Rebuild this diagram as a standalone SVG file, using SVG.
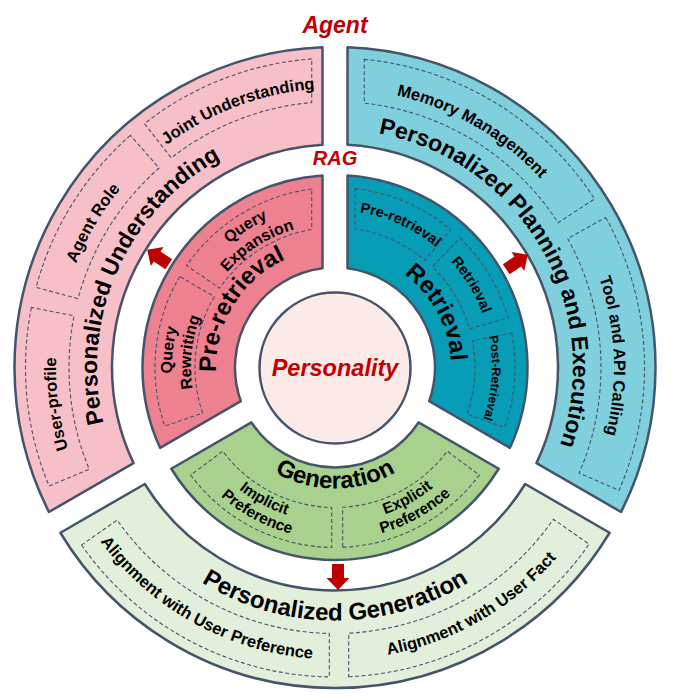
<svg xmlns="http://www.w3.org/2000/svg" width="674" height="700" viewBox="0 0 674 700">
<style>
.seg{stroke:#44546A;stroke-width:2.5;stroke-linejoin:round}
.box{fill:none;stroke:#44546A;stroke-width:1.1;stroke-dasharray:4 2.5}
text{font-family:"Liberation Sans",Arial,sans-serif;font-weight:bold;fill:#000}
.tt{font-size:23px}
.tg{font-size:24px}
.ts{font-size:16.5px}
.ti{font-size:16px}
.tm{font-size:14.5px}
.tq{font-size:15.5px}
.tp{font-size:12.5px}
.red{fill:#C00000;font-style:italic}
.arrow{fill:#C00000}
</style>
<defs>
<path id="cw238" d="M 335 605.5 A 238 238 0 1 1 335 129.5 A 238 238 0 1 1 335 605.5"/>
<path id="cw279" d="M 335 646.5 A 279 279 0 1 1 335 88.5 A 279 279 0 1 1 335 646.5"/>
<path id="cw119" d="M 335 486.5 A 119 119 0 1 1 335 248.5 A 119 119 0 1 1 335 486.5"/>
<path id="cw116" d="M 335 483.5 A 116 116 0 1 1 335 251.5 A 116 116 0 1 1 335 483.5"/>
<path id="cw163" d="M 335 530.5 A 163 163 0 1 1 335 204.5 A 163 163 0 1 1 335 530.5"/>
<path id="cw144" d="M 335 511.5 A 144 144 0 1 1 335 223.5 A 144 144 0 1 1 335 511.5"/>
<path id="cw157" d="M 335 524.5 A 157 157 0 1 1 335 210.5 A 157 157 0 1 1 335 524.5"/>
<path id="ccw253" d="M 335 114.5 A 253 253 0 1 0 335 620.5 A 253 253 0 1 0 335 114.5"/>
<path id="ccw292" d="M 335 75.5 A 292 292 0 1 0 335 659.5 A 292 292 0 1 0 335 75.5"/>
<path id="ccw121" d="M 335 246.5 A 121 121 0 1 0 335 488.5 A 121 121 0 1 0 335 246.5"/>
<path id="ccw155" d="M 335 212.5 A 155 155 0 1 0 335 522.5 A 155 155 0 1 0 335 212.5"/>
<path id="ccw172" d="M 335 195.5 A 172 172 0 1 0 335 539.5 A 172 172 0 1 0 335 195.5"/>
<polygon id="arr" points="-13,-6 1,-6 1,-11.5 13,0 1,11.5 1,6 -13,6"/>
</defs>

<g id="label-agent"><text class="red" x="335" y="33" font-size="23" text-anchor="middle">Agent</text></g>
<g id="label-rag"><text class="red" x="335" y="165" font-size="20" text-anchor="middle">RAG</text></g>

<g id="personalized-understanding">
<path class="seg" fill="#F7BFC8" d="M 322.5 47.24 A 320.5 320.5 0 0 0 48.92 512.0 L 133.55 463.14 A 223 223 0 0 1 322.5 144.85 Z"/>
<path class="box" d="M 311.7 58.88 A 309.5 309.5 0 0 0 144.44 123.61 L 171.22 157.89 A 266 266 0 0 1 311.7 102.52 Z"/>
<path class="box" d="M 130.33 135.34 A 309.5 309.5 0 0 0 36.05 287.40 L 78.07 298.66 A 266 266 0 0 1 159.09 167.97 Z"/>
<path class="box" d="M 31.38 307.40 A 309.5 309.5 0 0 0 49.05 485.95 L 89.24 469.30 A 266 266 0 0 1 74.05 315.84 Z"/>
<text class="tt" text-anchor="middle"><textPath href="#cw238" startOffset="472.7">Personalized Understanding</textPath></text>
<text class="ts" text-anchor="middle"><textPath href="#cw279" startOffset="775.7">Joint Understanding</textPath></text>
<text class="ts" text-anchor="middle"><textPath href="#cw279" startOffset="588.2">Agent Role</textPath></text>
<text class="ts" text-anchor="middle"><textPath href="#cw279" startOffset="401.7">User-profile</textPath></text>
</g>

<g id="personalized-planning">
<path class="seg" fill="#80CFDD" d="M 347.5 47.24 A 320.5 320.5 0 0 1 621.08 512.0 L 536.45 463.14 A 223 223 0 0 0 347.5 144.85 Z"/>
<path class="box" d="M 364.3 59.39 A 309.5 309.5 0 0 1 594.58 198.95 L 558.09 222.64 A 266 266 0 0 0 364.3 103.12 Z"/>
<path class="box" d="M 605.69 217.45 A 309.5 309.5 0 0 1 619.06 490.40 L 579.13 473.13 A 266 266 0 0 0 567.64 238.54 Z"/>
<text class="tt" text-anchor="middle"><textPath href="#cw238" startOffset="995.7">Personalized Planning and Execution</textPath></text>
<text class="ts" text-anchor="middle"><textPath href="#cw279" startOffset="1022.6">Memory Management</textPath></text>
<text class="ts" text-anchor="middle"><textPath href="#cw279" startOffset="1302.6">Tool and API Calling</textPath></text>
</g>

<g id="personalized-generation">
<path class="seg" fill="#E2EFDA" d="M 144.85 483.98 L 60.38 532.74 A 320.5 320.5 0 0 0 609.62 532.74 L 525.15 483.98 A 223 223 0 0 1 144.85 483.98 Z"/>
<path class="box" d="M 81.46 545.03 A 309.5 309.5 0 0 0 329.3 676.95 L 329.3 633.44 A 266 266 0 0 1 117.09 520.08 Z"/>
<path class="box" d="M 348.7 676.70 A 309.5 309.5 0 0 0 589.13 544.13 L 553.41 519.31 A 266 266 0 0 1 348.7 633.15 Z"/>
<text class="tg" text-anchor="middle"><textPath href="#ccw253" startOffset="794.8">Personalized Generation</textPath></text>
<text class="ts" text-anchor="middle"><textPath href="#ccw292" startOffset="769.5">Alignment with User Preference</textPath></text>
<text class="ts" text-anchor="middle"><textPath href="#ccw292" startOffset="1069.2">Alignment with User Fact</textPath></text>
</g>

<g id="pre-retrieval">
<path class="seg" fill="#EE8190" d="M 322.5 175.41 A 192.5 192.5 0 0 0 160.06 447.83 L 240.84 401.19 A 100 100 0 0 1 322.5 268.28 Z"/>
<path class="box" d="M 311.7 189.01 A 180 180 0 0 0 186.66 265.55 L 219.63 288.20 A 140 140 0 0 1 311.7 229.45 Z"/>
<path class="box" d="M 179.75 276.42 A 180 180 0 0 0 164.81 426.11 L 202.63 413.08 A 140 140 0 0 1 214.25 296.66 Z"/>
<text class="tg" text-anchor="middle"><textPath href="#cw119" startOffset="252.5">Pre-retrieval</textPath></text>
<text class="ti" text-anchor="middle"><textPath href="#cw163" startOffset="419.6">Query</textPath></text>
<text class="ti" text-anchor="middle"><textPath href="#cw144" startOffset="370.7">Expansion</textPath></text>
<text class="ti" text-anchor="middle"><textPath href="#cw163" startOffset="273.1">Query</textPath></text>
<text class="ti" text-anchor="middle"><textPath href="#cw144" startOffset="241.3">Rewriting</textPath></text>
</g>

<g id="retrieval">
<path class="seg" fill="#079DB7" d="M 347.5 175.41 A 192.5 192.5 0 0 1 509.94 447.83 L 429.16 401.19 A 100 100 0 0 0 347.5 268.28 Z"/>
<path class="box" d="M 355 188.61 A 180 180 0 0 1 450.70 229.62 L 424.99 260.26 A 140 140 0 0 0 355 228.94 Z"/>
<path class="box" d="M 460.05 238.03 A 180 180 0 0 1 508.03 317.89 L 469.58 328.92 A 140 140 0 0 0 432.26 266.80 Z"/>
<path class="box" d="M 511.69 333.16 A 180 180 0 0 1 504.67 427.58 L 466.96 414.23 A 140 140 0 0 0 472.42 340.79 Z"/>
<text class="tg" text-anchor="middle"><textPath href="#cw116" startOffset="488.9">Retrieval</textPath></text>
<text class="tm" text-anchor="middle"><textPath href="#cw157" startOffset="560.4">Pre-retrieval</textPath></text>
<text class="tm" text-anchor="middle"><textPath href="#cw157" startOffset="654.1">Retrieval</textPath></text>
<text class="tp" text-anchor="middle"><textPath href="#cw157" startOffset="750.3">Post-Retrieval</textPath></text>
</g>

<g id="generation">
<path class="seg" fill="#A9D18E" d="M 251.44 422.44 L 171.27 468.73 A 192.5 192.5 0 0 0 498.73 468.73 L 418.56 422.44 A 100 100 0 0 1 251.44 422.44 Z"/>
<path class="box" d="M 190.68 475.07 A 180 180 0 0 0 331.7 547.47 L 331.7 507.46 A 140 140 0 0 1 222.75 451.16 Z"/>
<path class="box" d="M 342.7 547.34 A 180 180 0 0 0 479.32 475.07 L 447.25 451.16 A 140 140 0 0 1 342.7 507.29 Z"/>
<text class="tg" text-anchor="middle"><textPath href="#ccw121" startOffset="380.1">Generation</textPath></text>
<text class="tq" text-anchor="middle"><textPath href="#ccw155" startOffset="410.4">Implicit</textPath></text>
<text class="tq" text-anchor="middle"><textPath href="#ccw172" startOffset="455.4">Preference</textPath></text>
<text class="tq" text-anchor="middle"><textPath href="#ccw155" startOffset="565.4">Explicit</textPath></text>
<text class="tq" text-anchor="middle"><textPath href="#ccw172" startOffset="627.4">Preference</textPath></text>
</g>

<g id="personality">
<circle class="seg" fill="#FBEAE7" cx="335" cy="368" r="75.5"/>
<text class="red" x="335" y="376" font-size="23.5" text-anchor="middle">Personality</text>
</g>

<g id="connectors">
<use href="#arr" class="arrow" transform="translate(158,257) rotate(214)"/>
<use href="#arr" class="arrow" transform="translate(517,262) rotate(-34)"/>
<use href="#arr" class="arrow" transform="translate(338,577) rotate(90)"/>
</g>
</svg>
